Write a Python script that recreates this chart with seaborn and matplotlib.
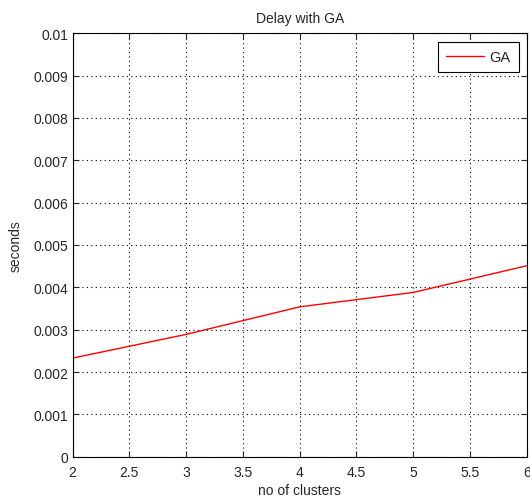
import pandas as pd
import seaborn as sns
import matplotlib.pyplot as plt

# values
clusters = [2, 3, 4, 5, 6]
delay_ga = [0.00233, 0.00289, 0.00354, 0.00388, 0.00451]
x_ticks = [2, 2.5, 3, 3.5, 4, 4.5, 5, 5.5, 6]
y_ticks = [0, 0.001, 0.002, 0.003, 0.004, 0.005, 0.006, 0.007, 0.008, 0.009, 0.01]
y_labels = ['0', '0.001', '0.002', '0.003', '0.004', '0.005', '0.006', '0.007', '0.008', '0.009', '0.01']

df = pd.DataFrame({'clusters': clusters, 'delay': delay_ga})

sns.set_style("ticks")
plt.rcParams['font.family'] = ['Liberation Sans', 'DejaVu Sans']

fig = plt.figure(figsize=(5.3, 5.02), dpi=100)
ax = fig.add_axes([0.137, 0.088, 0.857, 0.844])

sns.lineplot(data=df, x='clusters', y='delay', color='red', linewidth=1.0, label='GA', ax=ax)

ax.set_xlim(2, 6)
ax.set_ylim(0, 0.01)
ax.set_xticks(x_ticks)
ax.set_xticklabels([f'{t:g}' for t in x_ticks])
ax.set_yticks(y_ticks)
ax.set_yticklabels(y_labels)
ax.grid(True, linestyle=(0, (1, 3)), color='black', linewidth=0.8)
ax.tick_params(direction='in', top=True, right=True, labelsize=10, length=4, width=0.8)
ax.tick_params(axis='x', pad=6)
ax.tick_params(axis='y', pad=3)
for s in ax.spines.values():
    s.set_visible(True)
    s.set_linewidth(0.8)
    s.set_color('black')

ax.set_title("Delay with GA", fontsize=10, pad=8)
ax.set_xlabel("no of clusters", fontsize=10, labelpad=3)
ax.set_ylabel("seconds", fontsize=10, labelpad=8)

leg = ax.legend(loc='upper right', fontsize=10.5, fancybox=False, edgecolor='black',
                framealpha=1, handlelength=2.6, borderpad=0.55, handletextpad=0.35,
                bbox_to_anchor=(0.998, 0.997))
leg.get_frame().set_linewidth(0.8)

fig.savefig('out.png', dpi=100)
